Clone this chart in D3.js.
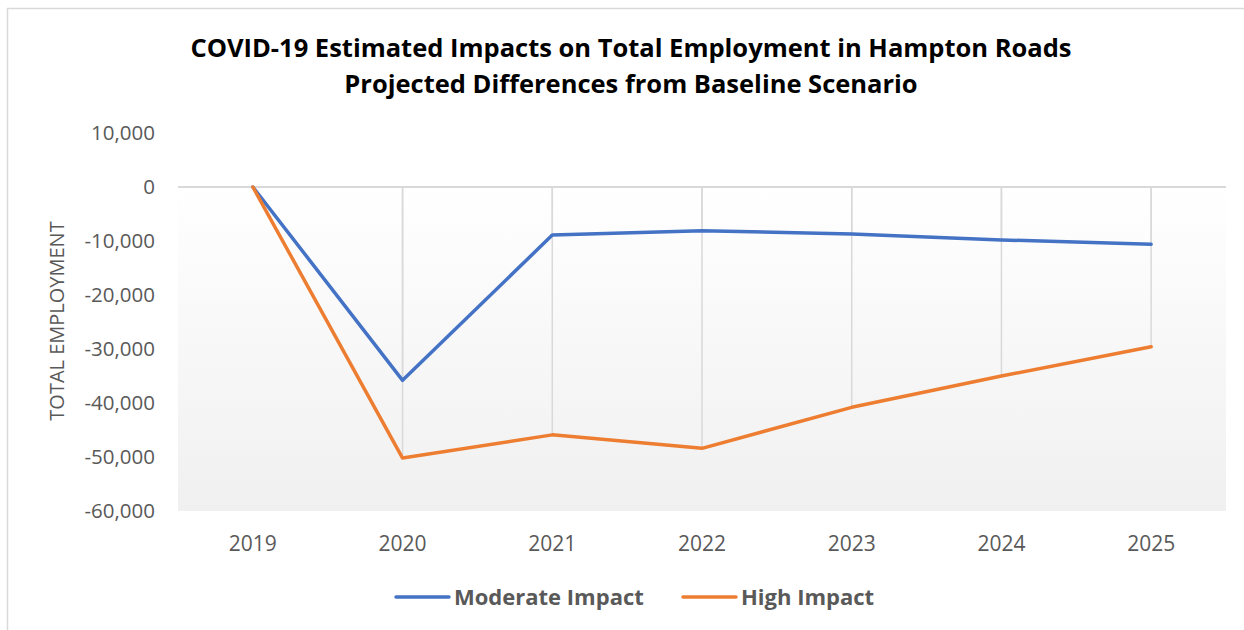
<!DOCTYPE html>
<html><head><meta charset="utf-8">
<script src="https://cdn.jsdelivr.net/npm/d3@7"></script>
<style>body{margin:0;background:#fff}svg{display:block}</style>
</head><body>
<svg id="c" width="1244" height="630"></svg>
<script>
const years = ["2019","2020","2021","2022","2023","2024","2025"];
const moderate = [0, -35800, -8900, -8100, -8700, -9800, -10600];
const high = [0, -50200, -45900, -48400, -40800, -35000, -29600];
const yTicks = [10000, 0, -10000, -20000, -30000, -40000, -50000, -60000];
const seriesNames = ["Moderate Impact", "High Impact"];
const colors = ["#4472C4", "#ED7D31"];

const svg = d3.select("#c");
const L = 178, R = 1226, T = 133, B = 511;
const x = d3.scaleBand().domain(years).range([L, R]);
const y = d3.scaleLinear().domain([-60000, 10000]).range([B, T]);
const cx = d => x(d) + x.bandwidth() / 2;

// outer border
svg.append("rect").attr("x", 7.5).attr("y", 8.5).attr("width", 1260).attr("height", 640)
  .attr("fill", "none").attr("stroke", "#d9d9d9").attr("stroke-width", 1.5);

// gradient background
const defs = svg.append("defs");
const g = defs.append("linearGradient").attr("id", "bg").attr("x1", 0).attr("y1", 0).attr("x2", 0).attr("y2", 1);
g.append("stop").attr("offset", "0%").attr("stop-color", "#ffffff");
g.append("stop").attr("offset", "100%").attr("stop-color", "#f0f0f0");
svg.append("rect").attr("x", L).attr("y", y(0)).attr("width", R - L).attr("height", y(-60000) - y(0))
  .attr("fill", "url(#bg)");

// drop lines
[moderate, high].forEach(s => {
  svg.append("g").selectAll("line").data(years).join("line")
    .attr("x1", d => cx(d)).attr("x2", d => cx(d))
    .attr("y1", y(0)).attr("y2", (d, i) => y(s[i]))
    .attr("stroke", "#d9d9d9").attr("stroke-width", 1.5);
});

// zero axis line
svg.append("line").attr("x1", L).attr("x2", R).attr("y1", y(0)).attr("y2", y(0))
  .attr("stroke", "#d9d9d9").attr("stroke-width", 2);

// y axis labels
const fmt = d3.format(",");
const yAxis = d3.axisLeft(y).tickValues(yTicks).tickSize(0).tickPadding(0)
  .tickFormat(d => fmt(d).replace("\u2212", "-"));
const ya = svg.append("g").attr("transform", `translate(155,0)`).call(yAxis);
ya.select(".domain").remove();
ya.selectAll("text").attr("font-family", "Open Sans").attr("font-size", 20.5).attr("fill", "#595959");

// x axis labels
const xAxis = d3.axisBottom(x).tickSize(0).tickPadding(0);
const xa = svg.append("g").attr("transform", `translate(0,551)`).call(xAxis);
xa.select(".domain").remove();
xa.selectAll("text").attr("dy", "0").attr("font-family", "Open Sans").attr("font-size", 21).attr("fill", "#595959");

// lines
const line = d3.line().x((d, i) => cx(years[i])).y(d => y(d));
[moderate, high].forEach((s, k) => {
  svg.append("path").datum(s).attr("d", line).attr("fill", "none")
    .attr("stroke", colors[k]).attr("stroke-width", 3.5).attr("stroke-linejoin", "round").attr("stroke-linecap", "round");
});

// title
const title = svg.append("text").attr("text-anchor", "middle").attr("font-family", "Open Sans")
  .attr("font-weight", "bold").attr("font-size", 25.5).attr("fill", "#000");
title.append("tspan").attr("x", 631).attr("y", 57).text("COVID-19 Estimated Impacts on Total Employment in Hampton Roads");
title.append("tspan").attr("x", 631).attr("y", 93).text("Projected Differences from Baseline Scenario");

// y axis title
svg.append("text").attr("transform", "translate(64,321) rotate(-90)").attr("text-anchor", "middle")
  .attr("font-family", "Open Sans").attr("font-size", 20).attr("fill", "#595959").text("TOTAL EMPLOYMENT");

// legend
const legX = [396, 683];
seriesNames.forEach((n, k) => {
  svg.append("line").attr("x1", legX[k]).attr("x2", legX[k] + 53).attr("y1", 597).attr("y2", 597)
    .attr("stroke", colors[k]).attr("stroke-width", 3.5).attr("stroke-linecap", "round");
  svg.append("text").attr("x", legX[k] + 58).attr("y", 605).attr("font-family", "Open Sans")
    .attr("font-weight", "bold").attr("font-size", 22).attr("fill", "#595959").text(n);
});
</script>
</body></html>
